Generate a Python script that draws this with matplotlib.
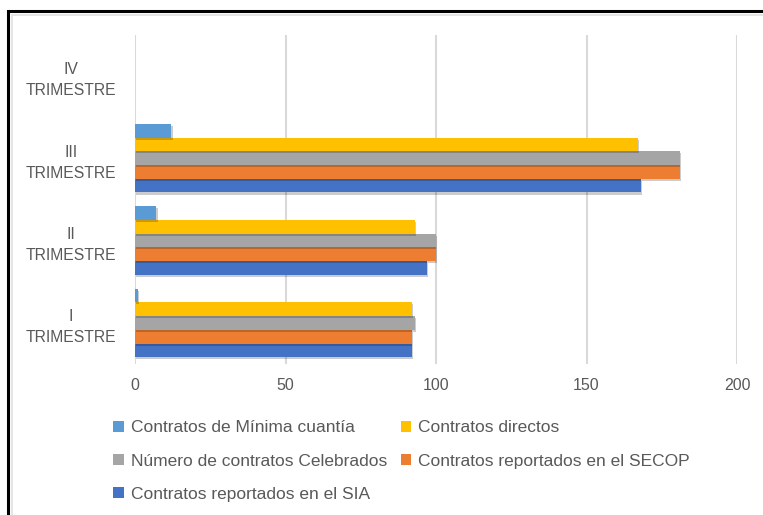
import numpy as np
import matplotlib.pyplot as plt
from matplotlib.patches import Rectangle
import matplotlib.patheffects as pe

# trimestres (de abajo hacia arriba)
trimestres = ['I\nTRIMESTRE', 'II\nTRIMESTRE', 'III\nTRIMESTRE', 'IV\nTRIMESTRE']

# series (IV trimestre sin datos)
sia        = [92, 97, 168, 0]
secop      = [92, 100, 181, 0]
celebrados = [93, 100, 181, 0]
directos   = [92, 93, 167, 0]
minima     = [1, 7, 12, 0]

series = [
    ('Contratos reportados en el SIA', sia, '#4472C4'),
    ('Contratos reportados en el SECOP', secop, '#ED7D31'),
    ('Número de contratos Celebrados', celebrados, '#A5A5A5'),
    ('Contratos directos', directos, '#FFC000'),
    ('Contratos de Mínima cuantía', minima, '#5B9BD5'),
]

plt.rcParams['font.family'] = ['Liberation Sans', 'DejaVu Sans']
txt = '#595959'

fig = plt.figure(figsize=(7.63, 5.15), dpi=100)
ax = fig.add_axes([0.177, 0.293, 0.789, 0.640])

y = np.arange(len(trimestres))
h = 1 / 6
shadow = [pe.SimplePatchShadow(offset=(1.0, -1.5), shadow_rgbFace='#000000', alpha=0.2), pe.Normal()]
bars = {}
for i, (name, vals, col) in enumerate(series):
    b = ax.barh(y - 2 * h + i * h, vals, height=h, color=col, label=name, zorder=3)
    for p in b.patches:
        if p.get_width() > 0:
            p.set_path_effects(shadow)
    bars[name] = b

ax.set_xlim(0, 200)
ax.set_ylim(-0.5, 3.5)
ax.set_xticks([0, 50, 100, 150, 200])
ax.set_yticks(y)
ax.set_yticklabels(trimestres, ha='center', linespacing=1.5)
ax.tick_params(axis='y', pad=46, length=0, labelsize=11.3, labelcolor=txt)
ax.tick_params(axis='x', length=0, pad=10, labelsize=11.5, labelcolor=txt)
ax.grid(axis='x', color='#D9D9D9', linewidth=1.5, zorder=0)
for s in ax.spines.values():
    s.set_visible(False)

# orden de la leyenda como en el original
order = ['Contratos de Mínima cuantía', 'Número de contratos Celebrados',
         'Contratos reportados en el SIA', 'Contratos directos',
         'Contratos reportados en el SECOP']
leg = fig.legend([bars[n] for n in order], order, ncol=2, loc='upper left',
                 bbox_to_anchor=(0.128, 0.214), frameon=False, fontsize=12.5,
                 handlelength=0.6, handleheight=0.6, handletextpad=0.4,
                 columnspacing=0.8, labelspacing=1.05, labelcolor=txt)
for hnd in leg.legend_handles:
    hnd.set_path_effects([])

# marco
fig.patches.append(Rectangle((0.011, -0.02), 1.05, 0.998, transform=fig.transFigure,
                             fill=False, edgecolor='black', linewidth=2.2))
fig.patches.append(Rectangle((0.016, -0.02), 1.05, 0.99, transform=fig.transFigure,
                             fill=False, edgecolor='#E0E0E0', linewidth=1.2))

fig.savefig('out.png', dpi=100)
